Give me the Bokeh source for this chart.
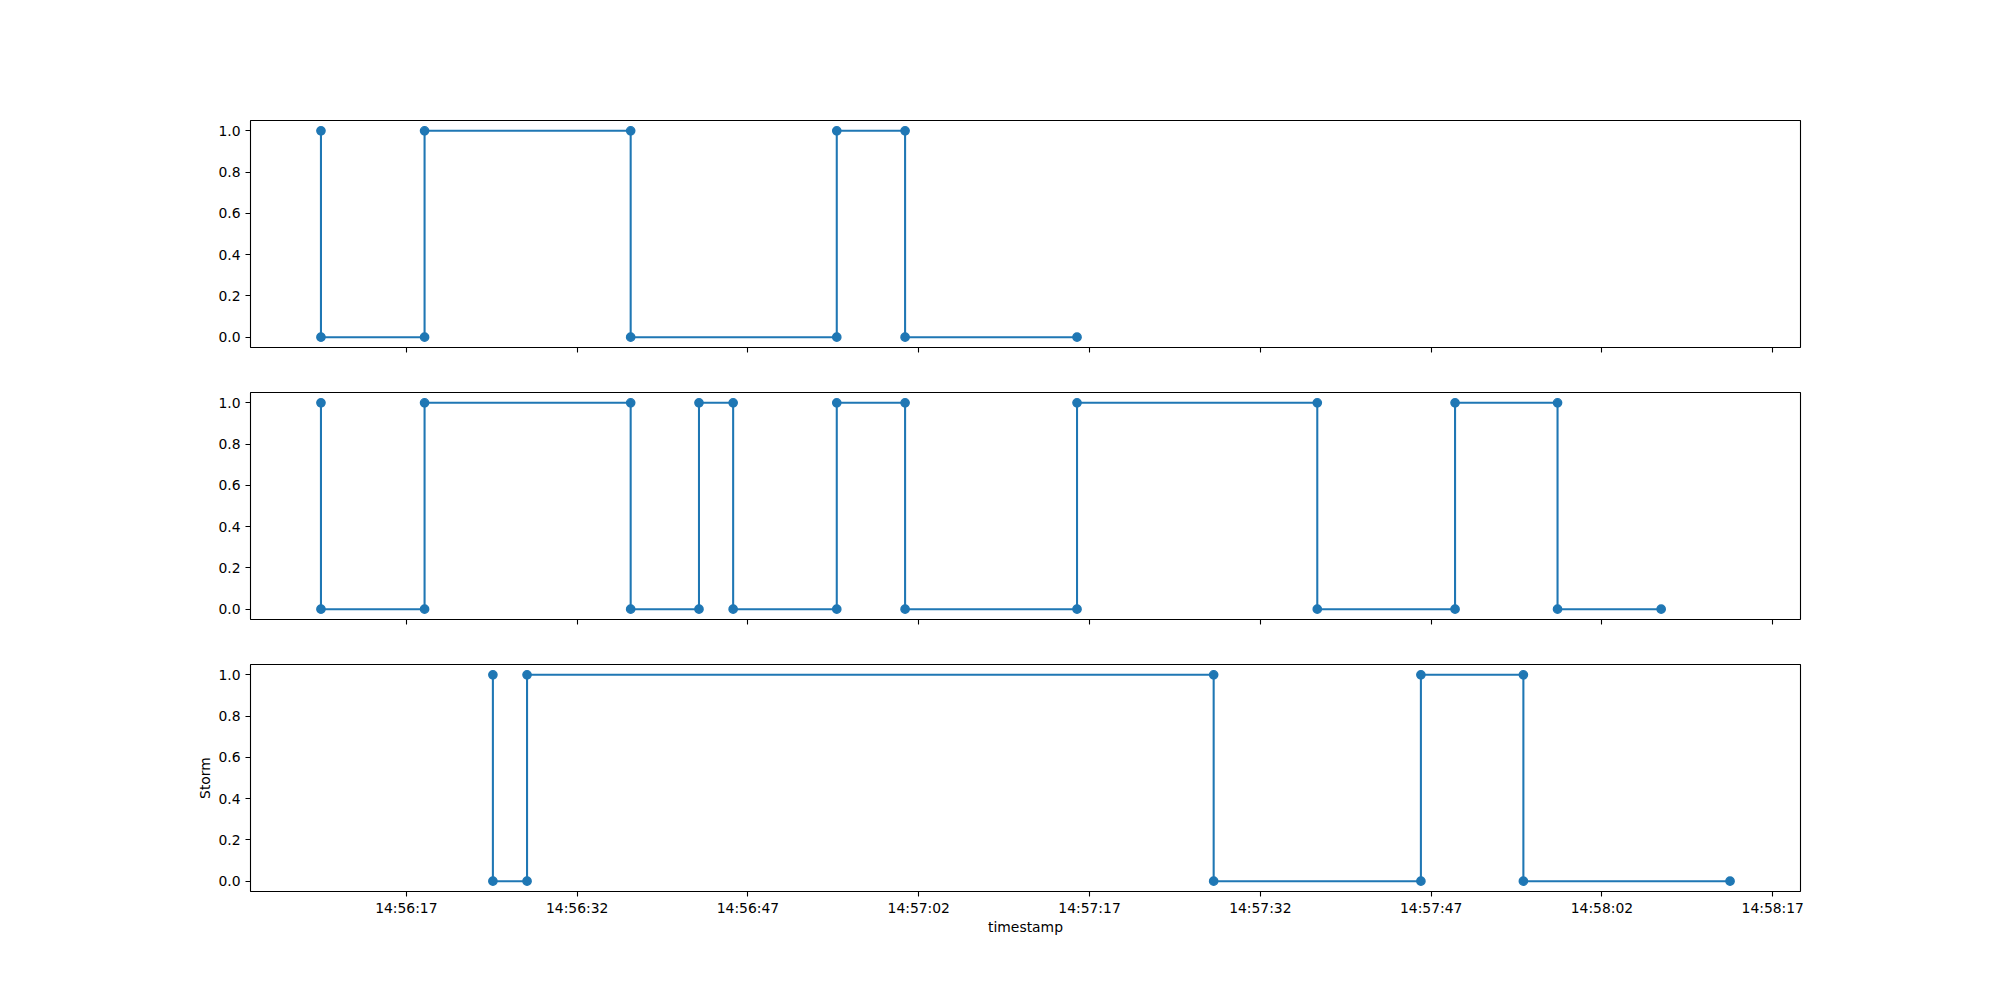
import pandas as pd
from bokeh.plotting import figure
from bokeh.layouts import column
from bokeh.models import Range1d, FixedTicker, DatetimeTickFormatter, CustomJSTickFormatter, NumeralTickFormatter
from bokeh.embed import file_html
from bokeh.resources import INLINE

DAY = "2023-01-01 "

# Panel 1
times1 = ["14:56:09.5", "14:56:09.5", "14:56:18.6", "14:56:18.6", "14:56:36.7", "14:56:36.7",
          "14:56:54.8", "14:56:54.8", "14:57:00.8", "14:57:00.8", "14:57:15.9"]
vals1 = [1, 0, 0, 1, 1, 0, 0, 1, 1, 0, 0]

# Panel 2
times2 = ["14:56:09.5", "14:56:09.5", "14:56:18.6", "14:56:18.6", "14:56:36.7", "14:56:36.7",
          "14:56:42.7", "14:56:42.7", "14:56:45.7", "14:56:45.7", "14:56:54.8", "14:56:54.8",
          "14:57:00.8", "14:57:00.8", "14:57:15.9", "14:57:15.9", "14:57:37.0", "14:57:37.0",
          "14:57:49.1", "14:57:49.1", "14:57:58.1", "14:57:58.1", "14:58:07.2"]
vals2 = [1, 0, 0, 1, 1, 0, 0, 1, 1, 0, 0, 1, 1, 0, 0, 1, 1, 0, 0, 1, 1, 0, 0]

# Panel 3 (Storm)
times3 = ["14:56:24.6", "14:56:24.6", "14:56:27.6", "14:56:27.6", "14:57:27.9", "14:57:27.9",
          "14:57:46.1", "14:57:46.1", "14:57:55.1", "14:57:55.1", "14:58:13.25"]
vals3 = [1, 0, 0, 1, 1, 0, 0, 1, 1, 0, 0]

x_tick_labels = ["14:56:17", "14:56:32", "14:56:47", "14:57:02", "14:57:17",
                 "14:57:32", "14:57:47", "14:58:02", "14:58:17"]
y_ticks = [0.0, 0.2, 0.4, 0.6, 0.8, 1.0]


def to_dt(lst):
    return [pd.Timestamp(DAY + s) for s in lst]


def to_ms(lst):
    return [pd.Timestamp(DAY + s).value / 1e6 for s in lst]


all_ms = to_ms(times1) + to_ms(times2) + to_ms(times3)
lo, hi = min(all_ms), max(all_ms)
pad = (hi - lo) * 0.05
xr = Range1d(lo - pad, hi + pad)

FONT = "DejaVu Sans"
FS = "13.9px"
BLUE = "#1f77b4"


def make(times, vals, height, top, bottom, show_labels):
    p = figure(width=2000, height=height, x_axis_type="datetime", x_range=xr,
               y_range=Range1d(-0.05, 1.05), output_backend="svg", toolbar_location=None,
               min_border_left=250, min_border_right=200, min_border_top=top,
               min_border_bottom=bottom)
    p.background_fill_color = "white"
    p.border_fill_color = "white"
    p.outline_line_color = "black"
    p.outline_line_width = 1.1
    p.grid.visible = False
    xs = to_dt(times)
    p.line(xs, vals, line_color=BLUE, line_width=2.08)
    p.scatter(xs, vals, size=8.3, fill_color=BLUE, line_color=BLUE, line_width=1.4)
    for ax in (p.xaxis[0], p.yaxis[0]):
        ax.axis_line_color = None
        ax.major_tick_out = 5
        ax.major_tick_in = 0
        ax.major_tick_line_width = 1.1
        ax.major_tick_line_color = "black"
        ax.minor_tick_out = 0
        ax.minor_tick_in = 0
        ax.minor_tick_line_color = None
        ax.major_label_text_font = FONT
        ax.major_label_text_font_size = FS
        ax.major_label_text_color = "black"
        ax.major_label_standoff = 5
        ax.axis_label_text_font = FONT
        ax.axis_label_text_font_size = FS
        ax.axis_label_text_font_style = "normal"
        ax.axis_label_text_color = "black"
    p.yaxis.ticker = FixedTicker(ticks=y_ticks)
    p.yaxis.formatter = NumeralTickFormatter(format="0.0")
    p.xaxis.ticker = FixedTicker(ticks=to_ms(x_tick_labels))
    if show_labels:
        f = "%H:%M:%S"
        p.xaxis.formatter = DatetimeTickFormatter(
            microseconds=f, milliseconds=f, seconds=f, minsec=f, minutes=f,
            hourmin=f, hours=f, days=f, months=f, years=f)
        p.xaxis.major_label_standoff = 3
        p.xaxis.axis_label = "timestamp"
        p.xaxis.axis_label_standoff = 0
        p.yaxis.axis_label = "Storm"
        p.yaxis.axis_label_standoff = 2
    else:
        p.xaxis.formatter = CustomJSTickFormatter(code="return ''")
        p.xaxis.major_label_standoff = 0
    return p


p1 = make(times1, vals1, 369, 120, 22, False)
p2 = make(times2, vals2, 272, 23, 22, False)
p3 = make(times3, vals3, 359, 23, 109, True)

layout = column(p1, p2, p3, spacing=0)
open("out.html", "w").write(file_html(layout, INLINE))
